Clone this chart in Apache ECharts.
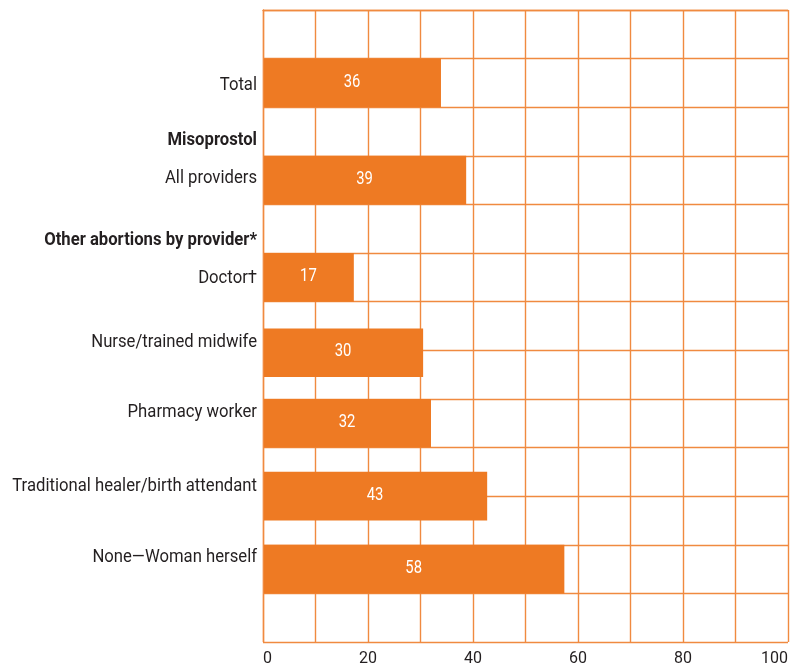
<!DOCTYPE html>
<html>
<head>
<meta charset="utf-8">
<script src="https://cdn.jsdelivr.net/npm/echarts@6/dist/echarts.min.js"></script>
<style>
  html, body { margin: 0; padding: 0; background: #fff; }
  #chart { width: 791px; height: 668px; }
</style>
</head>
<body>
<div id="chart"></div>
<script>
// row labels, top to bottom
var categories = ['Total', 'Misoprostol', 'All providers', 'Other abortions by provider*', 'Doctor\u2020',
	'Nurse/trained midwife', 'Pharmacy worker', 'Traditional healer/birth attendant', 'None\u2014Woman herself'];
var headings = [false, true, false, true, false, false, false, false, false];
// numbers printed in the bars
var printedValues = [36, null, 39, null, 17, 30, 32, 43, 58];
// bar lengths as drawn (percent)
var barLengths = [33.9, null, 38.7, null, 17.3, 30.5, 32, 42.7, 57.4];
var xTicks = [0, 20, 40, 60, 80, 100];

// layout: row centres on the 13-row background grid
var barRows = [1.5, null, 3.5, null, 5.5, 7.05, 8.5, 10, 11.5];
var labelRows = [1.557, 2.688, 3.462, 4.745, 5.519, 6.843, 8.283, 9.791, 11.266];

var orange = '#EE7A23';
var gridColor = '#F08A40';
var fontName = 'Roboto, "Noto Sans", sans-serif';
var labelSqueeze = 0.878; // condensed look
var valueSqueeze = 0.78;

var data = categories.map(function (c, i) {
	return [barLengths[i] == null ? NaN : barLengths[i], barRows[i] == null ? NaN : barRows[i], labelRows[i]];
});

var chart = echarts.init(document.getElementById('chart'));
chart.setOption({
	animation: false,
	grid: { left: 263, right: 3, top: 10, bottom: 26, containLabel: false },
	xAxis: {
		type: 'value', min: 0, max: 100, interval: 10,
		axisLine: { show: true, lineStyle: { color: gridColor, width: 1.4 } },
		axisTick: { show: false },
		splitLine: { show: true, lineStyle: { color: gridColor, width: 1.4 } },
		axisLabel: {
			color: '#231F20', fontFamily: fontName, fontSize: 16, margin: 9,
			alignMinLabel: 'left', alignMaxLabel: 'right',
			formatter: function (v) { return xTicks.indexOf(v) >= 0 ? String(v) : ''; }
		}
	},
	yAxis: {
		type: 'value', inverse: true, min: 0, max: 13, interval: 1,
		axisLine: { show: true, lineStyle: { color: gridColor, width: 1.4 } },
		axisTick: { show: false },
		axisLabel: { show: false },
		splitLine: { show: true, lineStyle: { color: gridColor, width: 1.4 } }
	},
	series: [{
		type: 'custom',
		clip: false,
		data: data,
		renderItem: function (params, api) {
			var i = params.dataIndex;
			var len = api.value(0), row = api.value(1), lrow = api.value(2);
			var children = [];
			var lp = api.coord([0, lrow]);
			children.push({
				type: 'text',
				x: lp[0] - 6, y: lp[1], scaleX: labelSqueeze,
				style: {
					text: categories[i], x: 0, y: 0,
					align: 'right', verticalAlign: 'middle',
					fontFamily: fontName, fontSize: 19,
					fontWeight: headings[i] ? 'bold' : 'normal',
					fill: '#231F20'
				}
			});
			if (!isNaN(len)) {
				var p0 = api.coord([0, row - 0.5]);
				var p1 = api.coord([len, row + 0.5]);
				children.push({
					type: 'rect',
					shape: { x: p0[0] + 1, y: p0[1], width: p1[0] - p0[0] - 1, height: p1[1] - p0[1] },
					style: { fill: orange }
				});
				children.push({
					type: 'text',
					x: (p0[0] + p1[0]) / 2, y: (p0[1] + p1[1]) / 2 - 1, scaleX: valueSqueeze,
					style: {
						text: String(printedValues[i]), x: 0, y: 0,
						align: 'center', verticalAlign: 'middle',
						fontFamily: fontName, fontSize: 19, fill: '#ffffff'
					}
				});
			}
			return { type: 'group', children: children };
		}
	}]
});
</script>
</body>
</html>
